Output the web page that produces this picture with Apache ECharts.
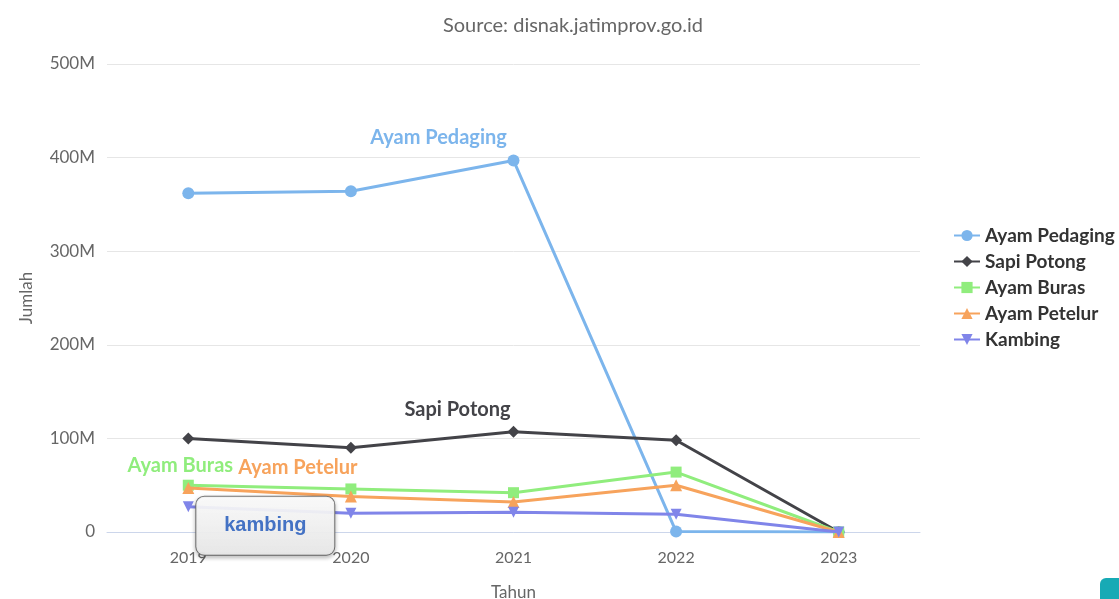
<!DOCTYPE html>
<html>
<head>
<meta charset="utf-8">
<script src="https://cdn.jsdelivr.net/npm/echarts@6/dist/echarts.min.js"></script>
<style>
  html, body { margin: 0; padding: 0; background: #fff; }
  #chart { width: 1119px; height: 599px; }
</style>
</head>
<body>
<div id="chart"></div>
<script>
const tahun = ['2019', '2020', '2021', '2022', '2023'];

const ayamPedaging = [362e6, 364e6, 397e6, 0.5e6, 0];
const sapiPotong = [100e6, 90e6, 107e6, 98e6, 0];
const ayamBuras = [50e6, 46e6, 42e6, 64e6, 0];
const ayamPetelur = [47e6, 38e6, 32e6, 50e6, 0];
const kambing = [27e6, 20e6, 21e6, 19e6, 0];

const namaSeri = ['Ayam Pedaging', 'Sapi Potong', 'Ayam Buras', 'Ayam Petelur', 'Kambing'];
const warna = ['#7cb5ec', '#434348', '#90ed7d', '#f7a35c', '#8085e9'];
const simbol = ['circle', 'diamond', 'rect', 'triangle', 'path://M0,0 L10,0 L5,10 Z'];

const fontUtama = 'Lato, "Open Sans", sans-serif';

// label nama seri ditaruh di satu titik saja, mirip tampilan highcharts
const labelSeri = [
    { idx: 2, offset: [-75, -23] },
    { idx: 2, offset: [-56, -22] },
    { idx: 0, offset: [-8, -20] },
    { idx: 1, offset: [-53, -29] },
    null
];

function buatData(nilai, i) {
    return nilai.map((v, j) => {
        const item = { value: v };
        const lb = labelSeri[i];
        if (lb && lb.idx === j) {
            item.label = {
                show: true,
                position: 'inside',
                offset: lb.offset,
                formatter: namaSeri[i],
                color: warna[i],
                fontFamily: fontUtama,
                fontSize: 20,
                fontWeight: 'bold',
                textBorderColor: '#fff',
                textBorderWidth: 2
            };
        }
        if (i === 4 && j === 0) {
            item.label = {
                show: true,
                position: 'inside',
                offset: [77, 19],
                formatter: 'kambing',
                color: '#4472c4',
                fontFamily: '"Liberation Sans", sans-serif',
                fontSize: 20,
                fontWeight: 'bold',
                width: 138,
                height: 58,
                lineHeight: 58,
                align: 'center',
                verticalAlign: 'middle',
                backgroundColor: {
                    type: 'linear', x: 0, y: 0, x2: 0, y2: 1,
                    colorStops: [{ offset: 0, color: 'rgba(255,255,255,0.9)' }, { offset: 1, color: 'rgba(232,232,232,0.95)' }]
                },
                borderColor: '#777',
                borderWidth: 1,
                borderRadius: 8,
                shadowColor: 'rgba(0,0,0,0.25)',
                shadowBlur: 4,
                shadowOffsetY: 2
            };
        }
        return item;
    });
}

const semuaNilai = [ayamPedaging, sapiPotong, ayamBuras, ayamPetelur, kambing];

const series = semuaNilai.map((nilai, i) => ({
    name: namaSeri[i],
    type: 'line',
    data: buatData(nilai, i),
    symbol: simbol[i],
    symbolSize: i === 4 ? 11 : (i === 2 ? 11 : 12),
    showAllSymbol: true,
    lineStyle: { width: 3, color: warna[i] },
    itemStyle: { color: warna[i] },
    emphasis: { disabled: true },
    z: 2 + i
}));

var myChart = echarts.init(document.getElementById('chart'));

var option = {
    animation: false,
    color: warna,
    title: {
        text: 'Source: disnak.jatimprov.go.id',
        left: 568,
        top: 11,
        textAlign: 'center',
        textStyle: { color: '#666', fontFamily: fontUtama, fontSize: 20, fontWeight: 'normal' }
    },
    legend: {
        orient: 'vertical',
        left: 948,
        top: 221,
        itemWidth: 26,
        itemHeight: 14,
        itemGap: 7,
        data: namaSeri,
        textStyle: { color: '#333', fontFamily: fontUtama, fontSize: 19, fontWeight: 'bold' }
    },
    grid: { left: 107, right: 199, top: 64, bottom: 67, outerBoundsMode: 'none' },
    xAxis: {
        type: 'category',
        data: tahun,
        boundaryGap: true,
        name: 'Tahun',
        nameLocation: 'middle',
        nameGap: 52,
        nameTextStyle: { color: '#666', fontFamily: fontUtama, fontSize: 17 },
        axisLine: { lineStyle: { color: '#ccd6eb', width: 1 } },
        axisTick: { show: false },
        axisLabel: { color: '#666', fontFamily: fontUtama, fontSize: 16, margin: 18 }
    },
    yAxis: {
        type: 'value',
        min: 0,
        max: 500e6,
        interval: 100e6,
        name: 'Jumlah',
        nameLocation: 'middle',
        nameGap: 72,
        nameTextStyle: { color: '#666', fontFamily: fontUtama, fontSize: 17 },
        axisLine: { show: false },
        axisTick: { show: false },
        splitLine: { lineStyle: { color: '#e6e6e6', width: 1 } },
        axisLabel: {
            color: '#666',
            fontFamily: fontUtama,
            fontSize: 17,
            margin: 12,
            formatter: v => v === 0 ? '0' : (v / 1e6) + 'M'
        }
    },
    graphic: [{
        type: 'rect',
        left: 1100,
        top: 578,
        shape: { width: 30, height: 30, r: [6, 0, 0, 0] },
        style: { fill: '#17aab5' }
    }],
    series: series
};

option && "object" == typeof option && myChart.setOption(option, !0);
</script>
</body>
</html>
